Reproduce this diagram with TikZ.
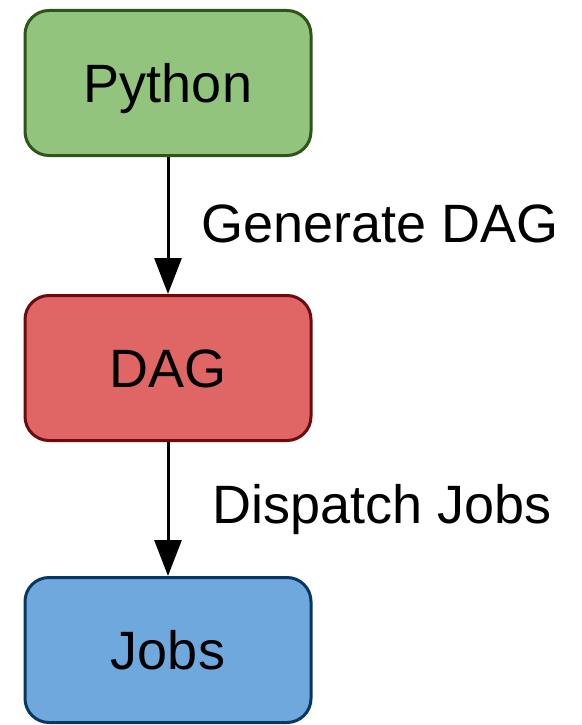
\documentclass[tikz,border=0pt]{standalone}
\usepackage{fontspec}
\setmainfont{Liberation Sans}
\usetikzlibrary{arrows.meta}
\definecolor{pyfill}{RGB}{147,196,125}
\definecolor{pydraw}{RGB}{45,85,25}
\definecolor{dagfill}{RGB}{224,102,102}
\definecolor{dagdraw}{RGB}{110,10,10}
\definecolor{jobfill}{RGB}{111,168,220}
\definecolor{jobdraw}{RGB}{7,55,99}
\tikzset{
  stagebox/.style={rectangle, rounded corners=24pt, line width=3pt,
    minimum width=286pt, minimum height=145pt, inner sep=0pt,
    text height=38.7pt, text depth=0pt,
    font=\fontsize{54}{60}\selectfont},
  flow/.style={line width=3pt, -{Triangle[length=36pt,width=27pt]}},
  flowlabel/.style={anchor=base west, inner sep=0pt, font=\fontsize{54}{60}\selectfont}
}
\begin{document}
\begin{tikzpicture}[x=1pt,y=-1pt]
  \useasboundingbox (0,0) rectangle (581,725);
  \node[stagebox, fill=pyfill, draw=pydraw] (python) at (168,83) {Python};
  \node[stagebox, fill=dagfill, draw=dagdraw] (dag) at (168,368) {DAG};
  \node[stagebox, fill=jobfill, draw=jobdraw] (jobs) at (168,650) {Jobs};
  \draw[flow] (python.south) -- (dag.north);
  \draw[flow] (dag.south) -- (jobs.north);
  \node[flowlabel] (genlabel) at (201,242) {Generate DAG};
  \node[flowlabel] (displabel) at (212,523) {Dispatch Jobs};
\end{tikzpicture}
\end{document}
